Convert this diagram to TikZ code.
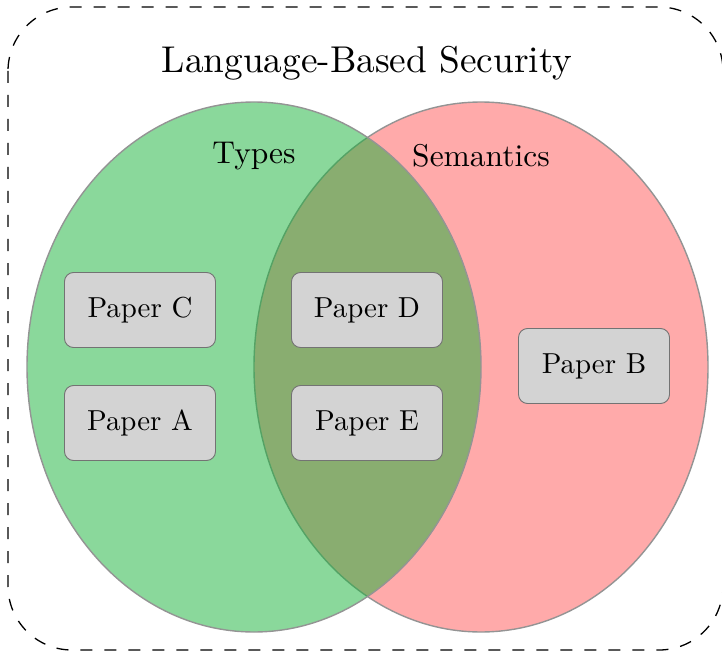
\documentclass[tikz,border=0pt]{standalone}
\usepackage{graphicx}
\definecolor{vgreen}{RGB}{21,177,55}
\definecolor{vred}{RGB}{255,170,170}
\definecolor{boxfill}{RGB}{211,211,211}
\begin{document}
\begin{tikzpicture}[x=1pt,y=-1pt,
  paper/.style={draw=black!55, fill=boxfill, rounded corners=9pt, minimum width=151pt, minimum height=75pt, line width=0.9pt, inner sep=0pt},
  setline/.style={draw=black!42, line width=1.4pt},
  lbl/.style={inner sep=0pt}]
\useasboundingbox (0,0) rectangle (722,652);
\draw[black, dash pattern=on 12pt off 12pt, line width=1.3pt, rounded corners=64pt] (8,7) rectangle (723,650);
\draw[setline, fill=vred] (481,367) ellipse [x radius=227pt, y radius=265pt];
\fill[vgreen, fill opacity=0.5] (254,367) ellipse [x radius=227pt, y radius=265pt];
\draw[setline] (254,367) ellipse [x radius=227pt, y radius=265pt];
\node[lbl] (title) at (367,63) {\scalebox{3.73}{Language-Based Security}};
\node[lbl] (types) at (254,156) {\scalebox{3.15}{Types}};
\node[lbl] (sem) at (481,156) {\scalebox{3.15}{Semantics}};
\node[paper] (C) at (140,310) {\scalebox{2.89}{Paper C}};
\node[paper] (A) at (140,423) {\scalebox{2.89}{Paper A}};
\node[paper] (D) at (367,310) {\scalebox{2.89}{Paper D}};
\node[paper] (E) at (367,423) {\scalebox{2.89}{Paper E}};
\node[paper] (B) at (594,366) {\scalebox{2.89}{Paper B}};
\end{tikzpicture}
\end{document}
